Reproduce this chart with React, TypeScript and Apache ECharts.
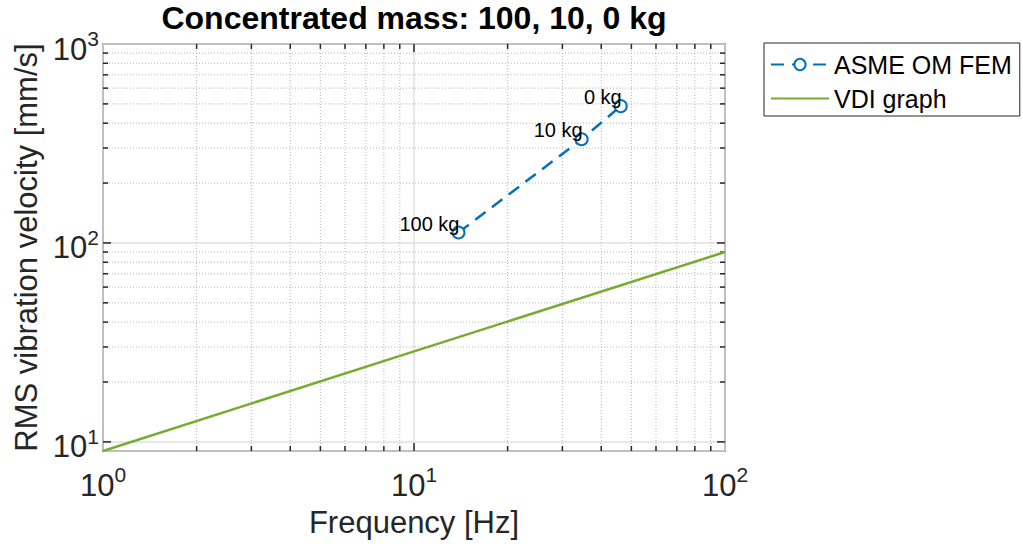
import React, { useEffect, useRef } from "react";
import * as echarts from "echarts";

// Concentrated mass cases and the FEM results (frequency in Hz, RMS velocity in mm/s)
const MASS_LABELS = ["100 kg", "10 kg", "0 kg"];
const FEM_FREQ = [13.9, 34.6, 46.2];
const FEM_VELOCITY = [112.8, 331.9, 487];

// VDI reference graph (straight line on log-log axes)
const VDI_FREQ = [1, 10, 100];
const VDI_VELOCITY = [9, 28.5, 90];

// Axis limits and tick positions
const X_MIN = 1;
const X_MAX = 100;
const Y_MIN = 9;
const Y_MAX = 1000;
const X_MAJOR = [10];
const Y_MAJOR = [10, 100];
const X_MINOR = [2, 3, 4, 5, 6, 7, 8, 9, 20, 30, 40, 50, 60, 70, 80, 90];
const Y_MINOR = [20, 30, 40, 50, 60, 70, 80, 90, 200, 300, 400, 500, 600, 700, 800, 900];

const FONT = "'Liberation Sans', Arial, Helvetica, sans-serif";
const AXIS_COLOR = "#262626";

function powLabel(v: number): string {
  const e = Math.log10(v);
  const r = Math.round(e);
  if (Math.abs(e - r) > 1e-6) return "";
  return `{b|10}{s|${r}}`;
}

const richLabels = {
  b: { fontSize: 31, fontFamily: FONT, color: AXIS_COLOR, lineHeight: 32, padding: [10, 0, 0, 0] },
  s: { fontSize: 21, fontFamily: FONT, color: AXIS_COLOR, verticalAlign: "top" as const, lineHeight: 21 },
};

export default function App() {
  const ref = useRef<HTMLDivElement>(null);

  useEffect(() => {
    if (!ref.current) return;
    const chart = echarts.init(ref.current, undefined, { renderer: "svg" });

    // tick / minor grid items: [x, y, kind]  kind 0 = x minor, 1 = y minor, 2 = x major, 3 = y major
    const tickData: number[][] = [
      ...X_MINOR.map((v) => [v, Y_MIN, 0]),
      ...Y_MINOR.map((v) => [X_MIN, v, 1]),
      ...X_MAJOR.map((v) => [v, Y_MIN, 2]),
      ...Y_MAJOR.map((v) => [X_MIN, v, 3]),
    ];

    const option: any = {
      animation: false,
      backgroundColor: "#ffffff",
      textStyle: { fontFamily: FONT },
      grid: {
        left: 103,
        top: 44,
        right: 298,
        bottom: 97,
        show: true,
        borderColor: AXIS_COLOR,
        borderWidth: 1.5,
        backgroundColor: "transparent",
      },
      graphic: [
        {
          type: "text",
          x: 414,
          y: 2,
          style: {
            text: "Concentrated mass: 100, 10, 0 kg",
            fontFamily: FONT,
            fontSize: 32,
            fontWeight: "bold",
            fill: "#000000",
            textAlign: "center",
            textVerticalAlign: "top",
          },
        },
      ],
      legend: {
        orient: "vertical",
        left: 764,
        top: 43,
        padding: [9, 8, 5, 6],
        itemGap: 9,
        itemWidth: 58,
        itemHeight: 14,
        borderColor: AXIS_COLOR,
        borderWidth: 1,
        backgroundColor: "#ffffff",
        textStyle: { fontSize: 25, fontFamily: FONT, color: "#000000" },
        data: [
          { name: "ASME OM FEM" },
          { name: "VDI graph", itemStyle: { opacity: 0 } },
        ],
      },
      xAxis: {
        type: "log",
        logBase: 10,
        min: X_MIN,
        max: X_MAX,
        name: "Frequency [Hz]",
        nameLocation: "middle",
        nameGap: 56,
        nameTextStyle: { fontSize: 31, fontFamily: FONT, color: AXIS_COLOR },
        axisLine: { show: false },
        axisTick: { show: false },
        axisLabel: {
          margin: 13,
          formatter: powLabel,
          rich: richLabels,
        },
        splitLine: { show: true, lineStyle: { color: "#e0e0e0", width: 1.5 } },
      },
      yAxis: {
        type: "log",
        logBase: 10,
        min: Y_MIN,
        max: Y_MAX,
        name: "RMS vibration velocity [mm/s]",
        nameLocation: "middle",
        nameGap: 54,
        nameTextStyle: { fontSize: 31, fontFamily: FONT, color: AXIS_COLOR },
        axisLine: { show: false },
        axisTick: { show: false },
        axisLabel: {
          margin: 4,
          formatter: powLabel,
          rich: richLabels,
        },
        splitLine: { show: true, lineStyle: { color: "#e0e0e0", width: 1.5 } },
      },
      series: [
        {
          // minor grid lines and inward ticks on all four sides of the box
          type: "custom",
          silent: true,
          z: 1,
          data: tickData,
          encode: { x: 0, y: 1 },
          renderItem: (params: any, api: any) => {
            const cs = params.coordSys;
            const kind = api.value(2);
            const p = api.coord([api.value(0), api.value(1)]);
            const left = cs.x;
            const right = cs.x + cs.width;
            const top = cs.y;
            const bottom = cs.y + cs.height;
            const tickStyle = { stroke: AXIS_COLOR, lineWidth: 1.5 };
            const gridStyle = { stroke: "#b5b5b5", lineWidth: 1, lineDash: [1, 2] };
            const children: any[] = [];
            if (kind === 0 || kind === 2) {
              const x = p[0];
              const len = kind === 2 ? 8 : 5;
              if (kind === 0) {
                children.push({ type: "line", shape: { x1: x, y1: top, x2: x, y2: bottom }, style: gridStyle });
              }
              children.push({ type: "line", shape: { x1: x, y1: bottom, x2: x, y2: bottom - len }, style: tickStyle });
              children.push({ type: "line", shape: { x1: x, y1: top, x2: x, y2: top + len }, style: tickStyle });
            } else {
              const y = p[1];
              const len = kind === 3 ? 8 : 5;
              if (kind === 1) {
                children.push({ type: "line", shape: { x1: left, y1: y, x2: right, y2: y }, style: gridStyle });
              }
              children.push({ type: "line", shape: { x1: left, y1: y, x2: left + len, y2: y }, style: tickStyle });
              children.push({ type: "line", shape: { x1: right, y1: y, x2: right - len, y2: y }, style: tickStyle });
            }
            return { type: "group", children };
          },
        },
        {
          name: "ASME OM FEM",
          type: "line",
          z: 3,
          data: FEM_FREQ.map((f, i) => ({ value: [f, FEM_VELOCITY[i]], name: MASS_LABELS[i] })),
          symbol: "emptyCircle",
          symbolSize: 12,
          color: "#0072BD",
          itemStyle: { color: "#0072BD", borderWidth: 2.5 },
          lineStyle: { color: "#0072BD", width: 2.5, type: [13, 8] },
          label: {
            show: true,
            position: "inside",
            align: "right",
            verticalAlign: "bottom",
            offset: [1, 1],
            formatter: (p: any) => p.name,
            fontSize: 20,
            fontFamily: FONT,
            color: "#000000",
          },
        },
        {
          name: "VDI graph",
          type: "line",
          z: 2,
          data: VDI_FREQ.map((f, i) => [f, VDI_VELOCITY[i]]),
          symbol: "none",
          color: "#77AC30",
          lineStyle: { color: "#77AC30", width: 2.5 },
        },
      ],
    };

    chart.setOption(option);
    return () => chart.dispose();
  }, []);

  return (
    <div
      ref={ref}
      style={{ position: "absolute", left: 0, top: 0, width: 1023, height: 548 }}
    />
  );
}
